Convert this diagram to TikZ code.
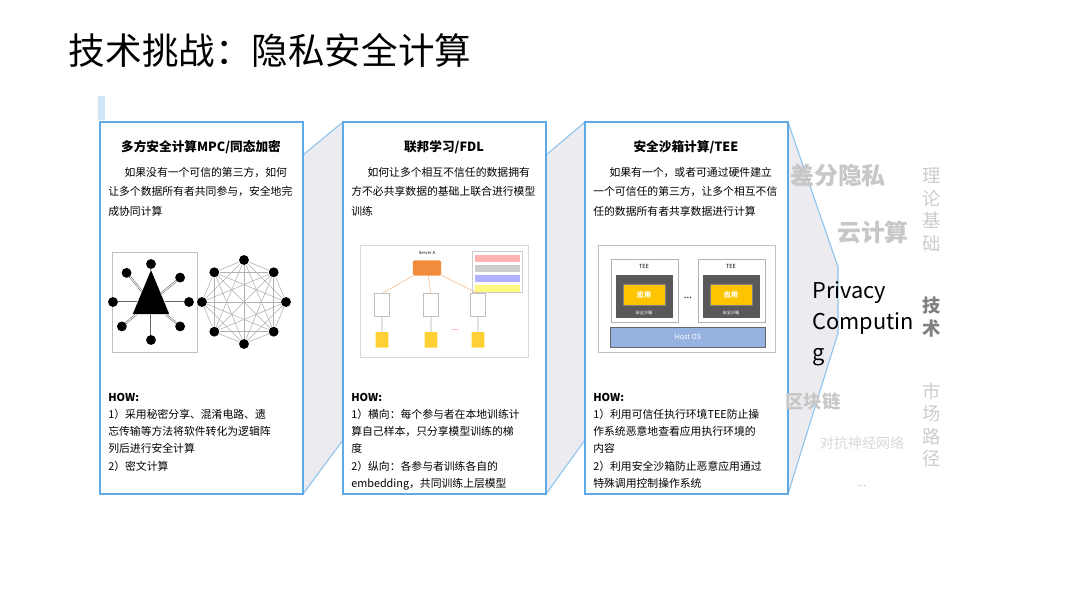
\documentclass[tikz,border=0pt]{standalone}
\usepackage{fontspec}
\setmainfont{Noto Sans CJK SC}
\usetikzlibrary{positioning,shapes.geometric,calc}
\definecolor{panelblue}{RGB}{95,170,230}
\definecolor{gapgray}{RGB}{236,236,240}
\definecolor{appyellow}{RGB}{255,196,0}
\definecolor{osblue}{RGB}{150,178,225}
\definecolor{srvorange}{RGB}{240,140,60}
\tikzset{
  panel/.style={draw=panelblue, line width=1.4pt, fill=white},
  ptitle/.style={font=\fontsize{9}{11}\selectfont\bfseries, anchor=north},
  pbody/.style={font=\fontsize{7.7}{13.9}\selectfont, anchor=north west, align=left, inner sep=0pt},
  phow/.style={pbody, font=\fontsize{7.7}{12.2}\selectfont},
  faint/.style={text=black!22, font=\fontsize{17}{20}\selectfont\bfseries},
  side/.style={text=black!20, font=\fontsize{13}{16}\selectfont, align=center, inner sep=0pt},
  person/.style={circle, fill=black, minimum size=7pt, inner sep=0pt},
  db/.style={cylinder, shape border rotate=90, aspect=0.3, fill=appyellow!80, minimum width=9pt, minimum height=11pt, inner sep=0pt}
}
\begin{document}
\begin{tikzpicture}[x=0.025cm, y=-0.025cm]
\useasboundingbox (0,0) rectangle (1080,609);
% title
\node[anchor=west, font=\fontsize{26}{30}\selectfont] (title) at (64,50) {技术挑战：隐私安全计算};
\fill[panelblue!30] (98,96) rectangle (105,120);

% perspective shades between panels
\fill[gapgray] (303,155) -- (343,122) -- (343,440) -- (303,494) -- cycle;
\fill[gapgray] (546,155) -- (585,122) -- (585,440) -- (546,494) -- cycle;
\fill[gapgray] (788,122) -- (838,267) -- (838,333) -- (788,494) -- cycle;
\draw[panelblue!70, line width=0.8pt] (303,155) -- (343,122) (303,494) -- (343,440);
\draw[panelblue!70, line width=0.8pt] (546,155) -- (585,122) (546,494) -- (585,440);
\draw[panelblue!70, line width=0.8pt] (788,122) -- (838,267) -- (838,333) -- (788,494);

% panels
\draw[panel] (100,122) rectangle (303,494);
\draw[panel] (343,122) rectangle (546,494);
\draw[panel] (585,122) rectangle (788,494);

% panel 1: MPC
\node[ptitle] (mpcTitle) at (201,136) {多方安全计算MPC/同态加密};
\node[pbody] (mpcText) at (108,167) {\hspace{1.5em}如果没有一个可信的第三方，如何\\让多个数据所有者共同参与，安全地完\\成协同计算};
\node[phow] (mpcHow) at (108,393) {\textbf{HOW:}\\1）采用秘密分享、混淆电路、遗\\忘传输等方法将软件转化为逻辑阵\\列后进行安全计算\\2）密文计算};
\draw[black!25] (112,252) rectangle (197,352);
\node[isosceles triangle, shape border rotate=90, fill=black, minimum width=26pt, minimum height=14pt, inner sep=0pt] (hub) at (151,302) {};
\foreach \a [count=\k] in {90,40,0,-40,-90,-130,-180,140} {
  \node[person] (sat\k) at ($(151,302)+(\a:38)$) {};
  \draw[black!60, double] (hub) -- (sat\k);
}
\foreach \k in {1,...,8} {
  \node[person] (ring\k) at ($(244,302)+(90+45*\k:42)$) {};
}
\foreach \i in {1,...,8} {
  \foreach \j in {\i,...,8} {
    \ifnum\i<\j \draw[black!30] (ring\i) -- (ring\j); \fi
  }
}

% panel 2: FDL
\node[ptitle] (fdlTitle) at (444,136) {联邦学习/FDL};
\node[pbody] (fdlText) at (351,167) {\hspace{1.5em}如何让多个相互不信任的数据拥有\\方不必共享数据的基础上联合进行模型\\训练};
\node[phow] (fdlHow) at (351,393) {\textbf{HOW:}\\1）横向：每个参与者在本地训练计\\算自己样本，只分享模型训练的梯\\度\\2）纵向：各参与者训练各自的\\embedding，共同训练上层模型};
\draw[black!15] (360,245) rectangle (528,357);
\node[fill=srvorange, minimum width=20pt, minimum height=11pt, rounded corners=1pt] (server) at (427,268) {};
\node[font=\fontsize{3}{3}\selectfont, above=0pt of server] (serverLbl) {Server A};
\draw[black!20, fill=white] (472,251) rectangle (522,292);
\foreach \c [count=\k] in {red!30,black!20,blue!30,yellow!50} {
  \fill[\c] (475,245+10*\k) rectangle (520,252+10*\k);
}
\foreach \x/\n in {382/1,431/2,478/3} {
  \node[draw=black!25, minimum width=11pt, minimum height=16pt, inner sep=0pt] (net\n) at (\x,305) {};
  \node[db] (db\n) at (\x,340) {};
  \draw[black!30] (net\n) -- (db\n);
  \draw[srvorange!60] (server) -- (net\n.north);
}
\node[font=\fontsize{6}{6}\selectfont, text=red!60] (fdlDots) at (455,330) {...};

% panel 3: TEE
\node[ptitle] (teeTitle) at (686,136) {安全沙箱计算/TEE};
\node[pbody] (teeText) at (593,167) {\hspace{1.5em}如果有一个，或者可通过硬件建立\\一个可信任的第三方，让多个相互不信\\任的数据所有者共享数据进行计算};
\node[phow] (teeHow) at (593,393) {\textbf{HOW:}\\1）利用可信任执行环境TEE防止操\\作系统恶意地查看应用执行环境的\\内容\\2）利用安全沙箱防止恶意应用通过\\特殊调用控制操作系统};
\draw[black!25] (598,245) rectangle (775,352);
\foreach \x/\n in {611/1,698/2} {
  \draw[black!30] (\x,259) rectangle (\x+67,322);
  \node[font=\fontsize{4}{4}\selectfont] (teeLbl\n) at (\x+33,266) {TEE};
  \fill[black!65] (\x+5,275) rectangle (\x+62,318);
  \node[draw=black!50, fill=appyellow, minimum width=30pt, minimum height=15pt, inner sep=0pt, text=white, font=\fontsize{5}{5}\selectfont\bfseries] (app\n) at (\x+33,295) {应用};
  \node[font=\fontsize{3}{3}\selectfont, text=white, below=0pt of app\n] (box\n) {安全沙箱};
}
\node[font=\fontsize{7}{7}\selectfont] (teeDots) at (688,298) {...};
\node[draw=black!60, fill=osblue, minimum width=110pt, minimum height=14pt, inner sep=0pt, text=white, font=\fontsize{5}{5}\selectfont] (hostOS) at (688,337) {Host OS};

% right side
\node[faint] (dp) at (838,175) {差分隐私};
\node[faint] (cloud) at (873,232) {云计算};
\node[anchor=north west, align=left, font=\fontsize{15.5}{22}\selectfont, inner sep=0pt] (pc) at (812,281) {Privacy\\Computin\\g};
\node[faint, font=\fontsize{13}{15}\selectfont\bfseries] (chain) at (813,402) {区块链};
\node[faint, text=black!15, font=\fontsize{10}{12}\selectfont] (gan) at (862,443) {对抗神经网络};
\node[text=black!30, font=\fontsize{7}{7}\selectfont] (more) at (862,486) {...};
\node[side] (theory) at (932,210) {理\\论\\基\\础};
\node[side, text=black!50, font=\fontsize{13}{16}\selectfont\bfseries] (tech) at (932,317) {技\\术};
\node[side] (market) at (932,425) {市\\场\\路\\径};
\end{tikzpicture}
\end{document}
